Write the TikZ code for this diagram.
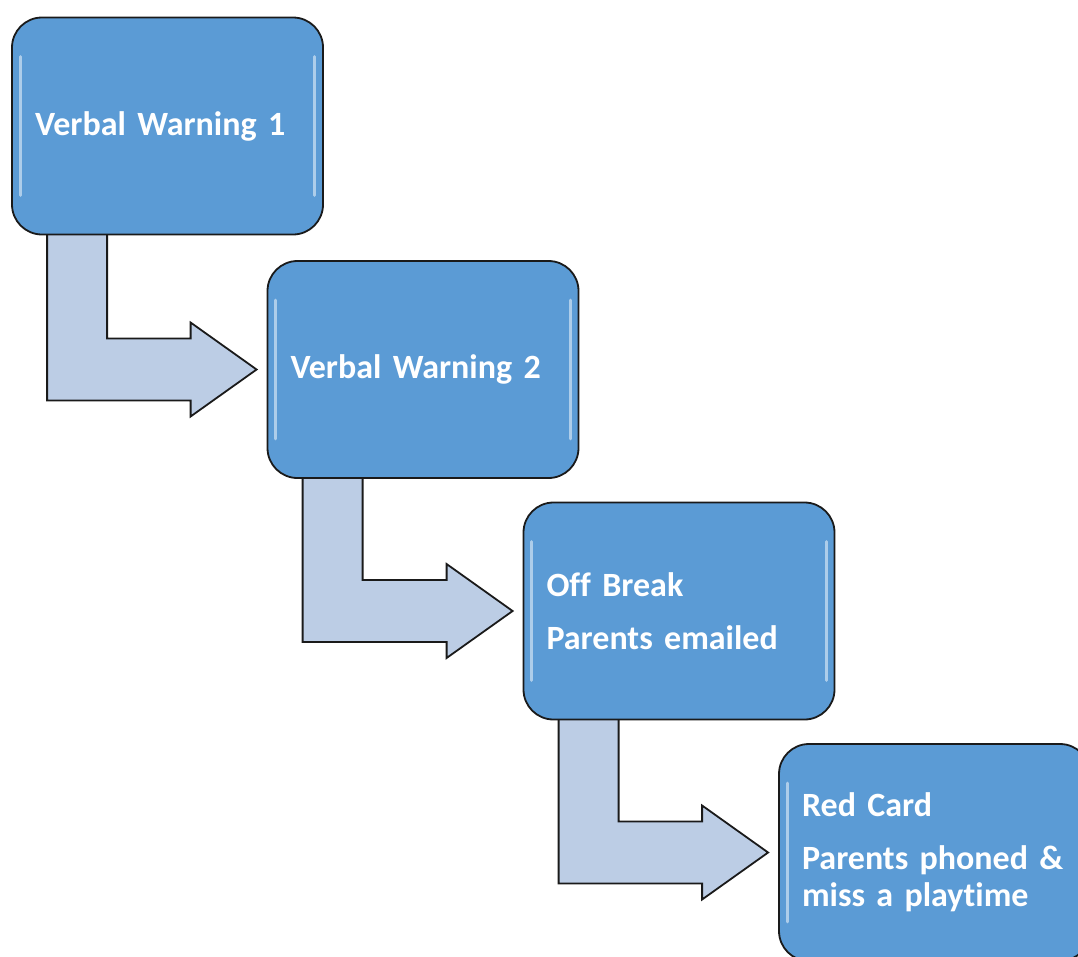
\documentclass[tikz,border=0pt]{standalone}
\usepackage{fontspec}
\setmainfont{Carlito}[Ligatures=NoCommon]
\usetikzlibrary{calc,backgrounds}
\definecolor{cardblue}{HTML}{5B9BD5}
\definecolor{arrowblue}{HTML}{BCCDE5}
\definecolor{edgegrey}{HTML}{1A1A1A}
\newcommand{\cardfont}{\fontsize{34}{37}\selectfont\bfseries\spaceskip=6.5pt\relax}

\begin{document}
\begin{tikzpicture}[x=1pt, y=-1pt,
  card/.style={draw=edgegrey, line width=1.8pt, fill=cardblue, rounded corners=30pt,
    minimum width=311pt, minimum height=217pt, text width=265pt, inner xsep=23pt,
    align=left, text=white, font=\cardfont},
  bentarrow/.style={draw=edgegrey, line width=1.8pt, fill=arrowblue, line join=miter},
  gloss/.style={draw=white, line width=3pt, opacity=0.5, line cap=round}]
  \useasboundingbox (0,0) rectangle (1078,956);
  \node[card] (vw1)  at (167.5,126)  {Verbal Warning 1};
  \node[card] (vw2)  at (423,369.5)  {Verbal Warning 2};
  \node[card] (offb) at (679,611)    {Off Break\\[16pt]Parents emailed};
  \node[card] (redc) at (934.5,852.5) {Red Card\\[16pt]Parents phoned \&\\miss a playtime};
  % glossy edges
  \foreach \b in {vw1,vw2,offb,redc} {
    \draw[gloss] ($(\b.north west)+(9,40)$) -- ($(\b.south west)+(9,-40)$);
    \draw[gloss] ($(\b.north east)+(-9,40)$) -- ($(\b.south east)+(-9,-40)$);
  }
  \begin{scope}[on background layer]
    \foreach \a/\b in {vw1/vw2,vw2/offb,offb/redc} {
      \coordinate (tip-\b) at ($(\b.west)+(-10,0)$);
      \draw[bentarrow] ($(\a.south west)+(36,-4)$) -- ($(\a.south west |- tip-\b)+(36,31)$)
        -- ($(tip-\b)+(-66,31)$) -- ($(tip-\b)+(-66,47)$) -- (tip-\b)
        -- ($(tip-\b)+(-66,-47)$) -- ($(tip-\b)+(-66,-31)$)
        -- ($(\a.south west |- tip-\b)+(96,-31)$) -- ($(\a.south west)+(96,-4)$) -- cycle;
    }
  \end{scope}
\end{tikzpicture}
\end{document}
